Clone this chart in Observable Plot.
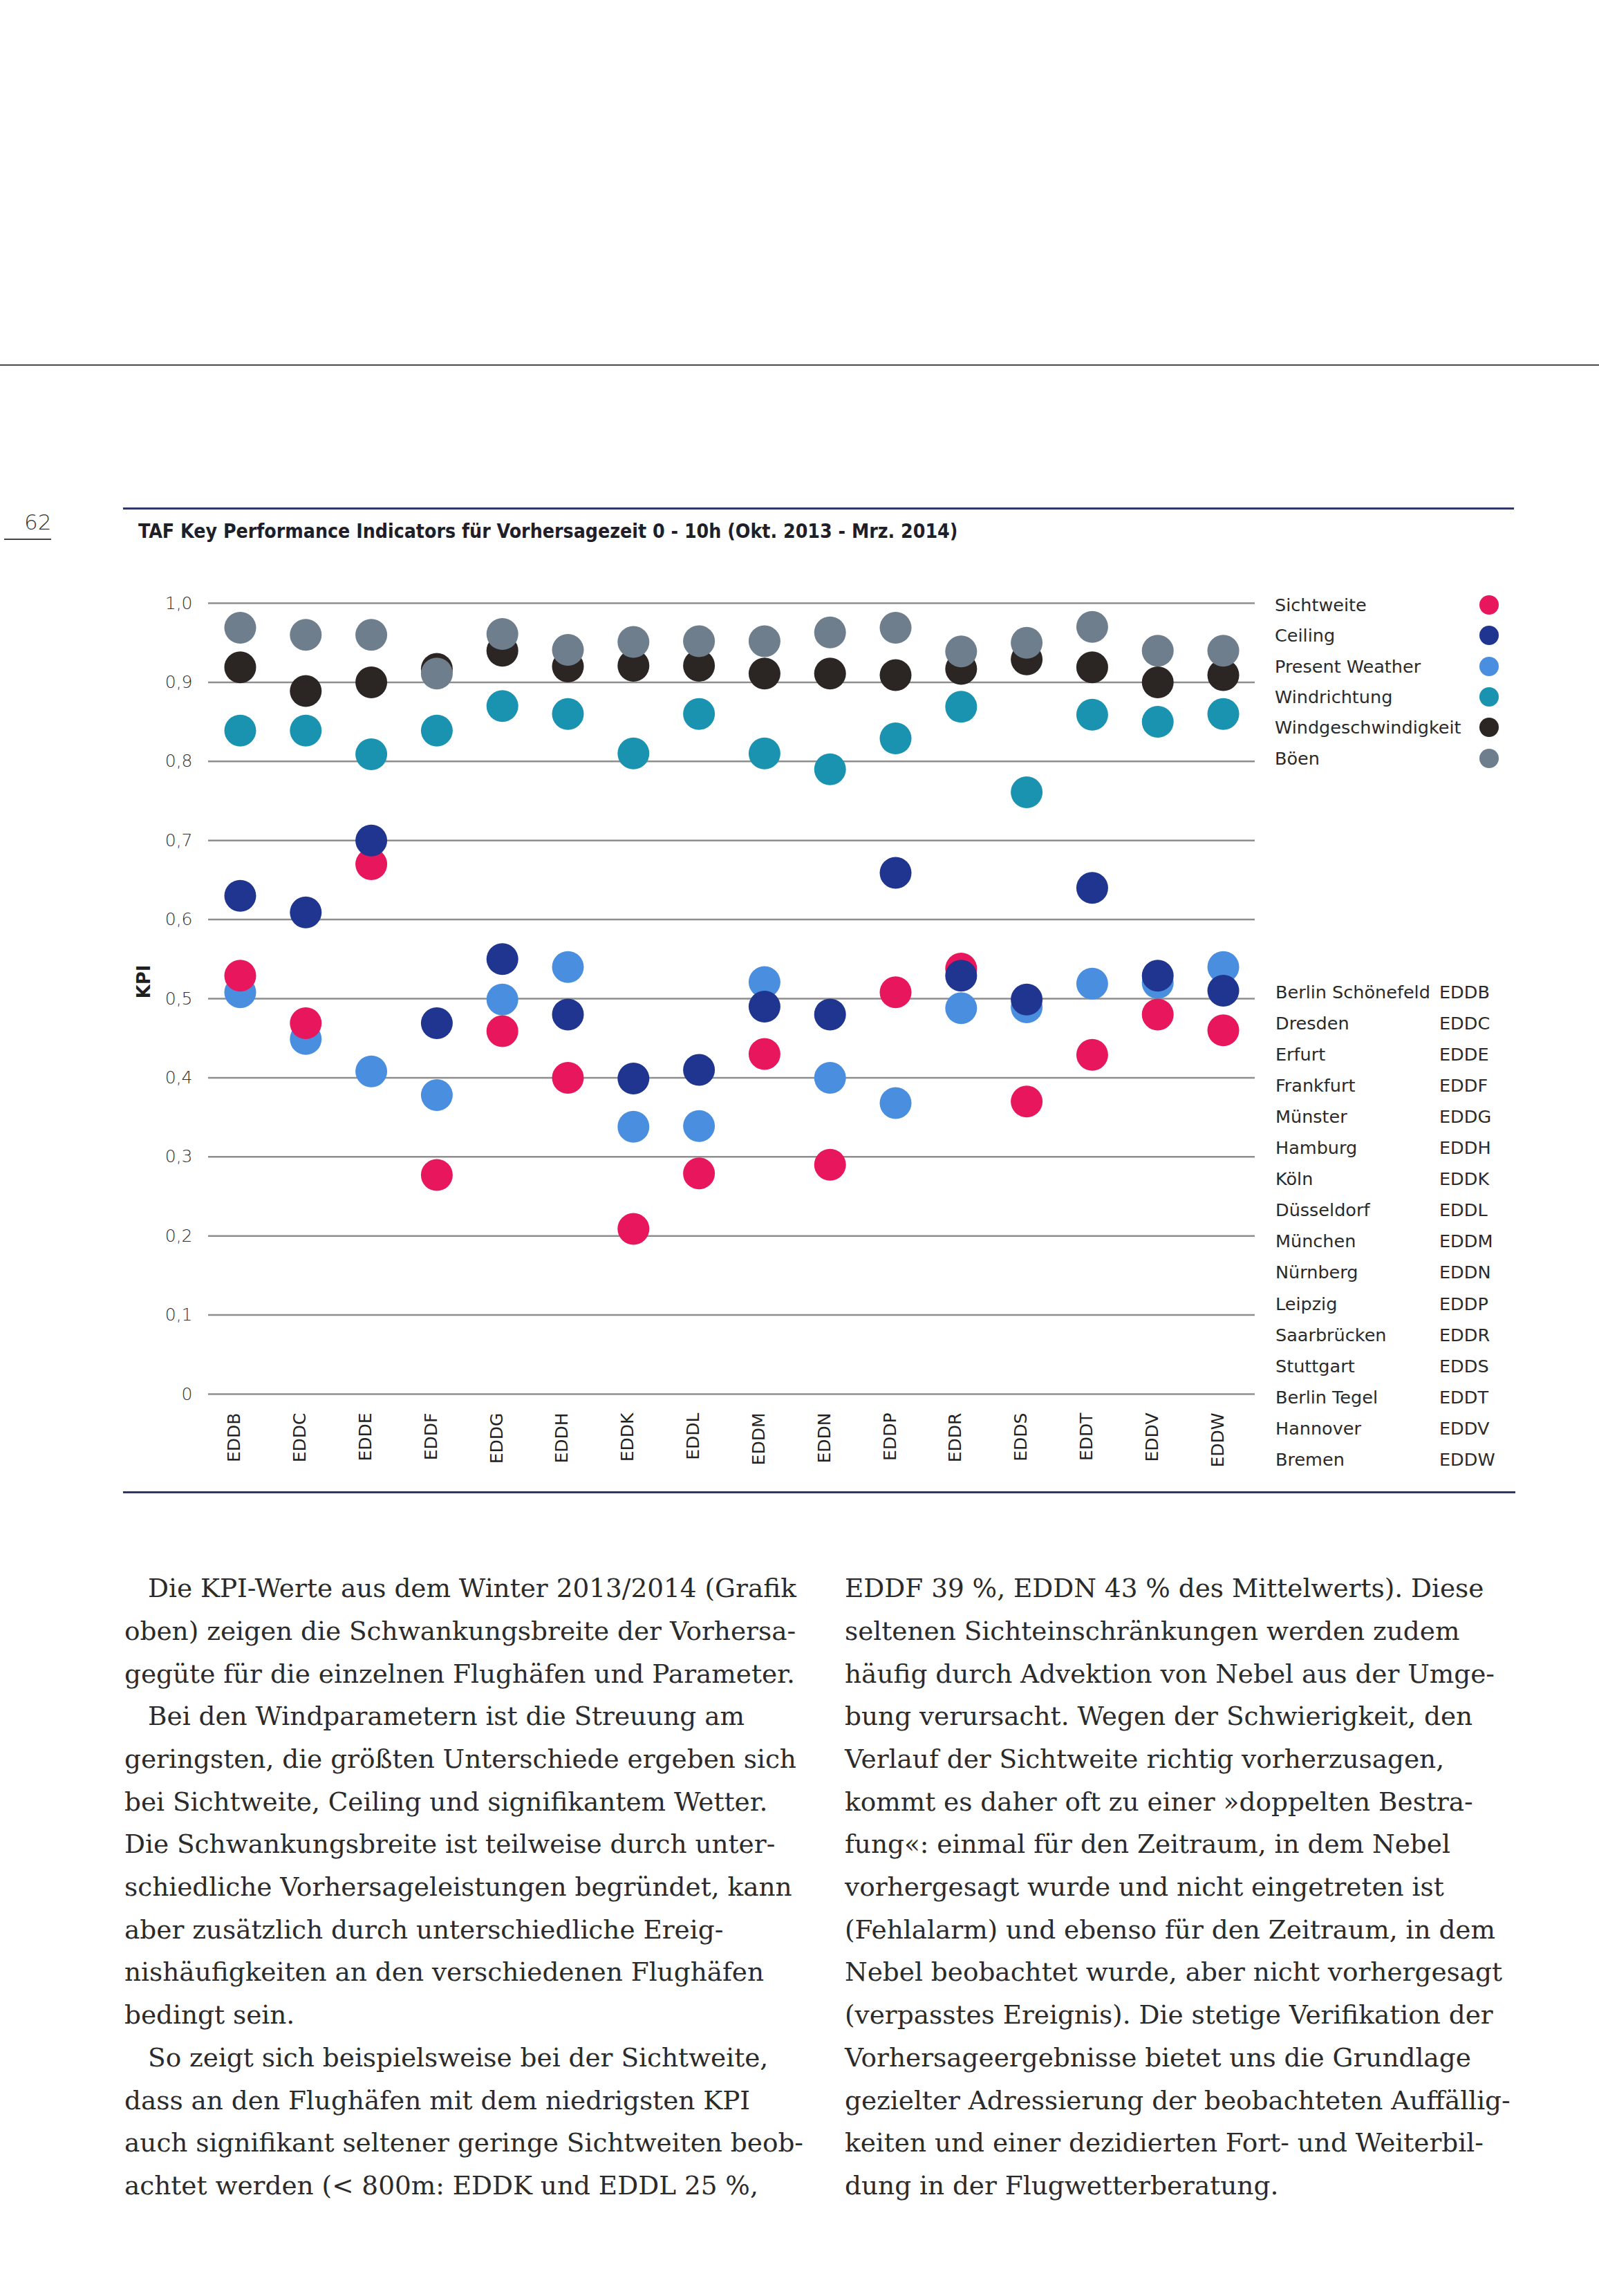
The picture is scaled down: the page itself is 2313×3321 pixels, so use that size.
<!DOCTYPE html>
<html>
<head>
<meta charset="utf-8">
<script src="https://cdn.jsdelivr.net/npm/d3@7"></script>
<script src="https://cdn.jsdelivr.net/npm/@observablehq/plot@0.6"></script>
<style>
  html, body { margin: 0; padding: 0; background: #ffffff; }
  #page { position: relative; width: 2313px; height: 3321px; overflow: hidden; background: #ffffff; }
  .abs { position: absolute; white-space: nowrap; }
  .hline { position: absolute; }
  .leg { font-family: "DejaVu Sans", sans-serif; font-size: 25.5px; color: #2a2a2a; line-height: 40px; height: 40px; }
  .body { font-family: "DejaVu Serif", serif; color: #2b2b2b; }
</style>
</head>
<body>
<div id="page"></div>
<script>
// ---------------- DATA ----------------
const airports = ["EDDB","EDDC","EDDE","EDDF","EDDG","EDDH","EDDK","EDDL","EDDM","EDDN","EDDP","EDDR","EDDS","EDDT","EDDV","EDDW"];
const airportNames = ["Berlin Schönefeld","Dresden","Erfurt","Frankfurt","Münster","Hamburg","Köln","Düsseldorf","München","Nürnberg","Leipzig","Saarbrücken","Stuttgart","Berlin Tegel","Hannover","Bremen"];
const parameters = ["Sichtweite","Ceiling","Present Weather","Windrichtung","Windgeschwindigkeit","Böen"];
const parameterColors = ["#e8175d","#1f3590","#4a8ee0","#1a93b0","#2b2523","#6e7e8c"];

const sichtweite          = [0.529,0.469,0.670,0.277,0.459,0.400,0.209,0.279,0.430,0.290,0.508,0.538,0.370,0.429,0.480,0.460];
const ceiling             = [0.630,0.609,0.700,0.469,0.550,0.480,0.399,0.410,0.490,0.480,0.659,0.529,0.499,0.640,0.529,0.510];
const presentWeather      = [0.508,0.449,0.408,0.378,0.499,0.540,0.338,0.339,0.521,0.400,0.368,0.488,0.489,0.519,0.520,0.540];
const windrichtung        = [0.839,0.839,0.809,0.839,0.870,0.860,0.810,0.860,0.810,0.790,0.829,0.869,0.761,0.859,0.850,0.860];
const windgeschwindigkeit = [0.919,0.889,0.900,0.917,0.940,0.920,0.921,0.921,0.911,0.911,0.909,0.917,0.929,0.919,0.900,0.909];
const boeen               = [0.969,0.960,0.960,0.911,0.961,0.941,0.951,0.952,0.952,0.963,0.969,0.939,0.950,0.970,0.940,0.940];

const yTicks = [0,0.1,0.2,0.3,0.4,0.5,0.6,0.7,0.8,0.9,1.0];
const yTickLabels = ["0","0,1","0,2","0,3","0,4","0,5","0,6","0,7","0,8","0,9","1,0"];

const titleText = "TAF Key Performance Indicators für Vorhersagezeit 0 - 10h (Okt. 2013 - Mrz. 2014)";
const yLabel = "KPI";
const pageNumber = "62";

const leftLines = [
  ["Die KPI-Werte aus dem Winter 2013/2014 (Grafik", true],
  ["oben) zeigen die Schwankungsbreite der Vorhersa-", false],
  ["gegüte für die einzelnen Flughäfen und Parameter.", false],
  ["Bei den Windparametern ist die Streuung am", true],
  ["geringsten, die größten Unterschiede ergeben sich", false],
  ["bei Sichtweite, Ceiling und signifikantem Wetter.", false],
  ["Die Schwankungsbreite ist teilweise durch unter-", false],
  ["schiedliche Vorhersageleistungen begründet, kann", false],
  ["aber zusätzlich durch unterschiedliche Ereig-", false],
  ["nishäufigkeiten an den verschiedenen Flughäfen", false],
  ["bedingt sein.", false],
  ["So zeigt sich beispielsweise bei der Sichtweite,", true],
  ["dass an den Flughäfen mit dem niedrigsten KPI", false],
  ["auch signifikant seltener geringe Sichtweiten beob-", false],
  ["achtet werden (< 800m: EDDK und EDDL 25 %,", false]
];
const rightLines = [
  ["EDDF 39 %, EDDN 43 % des Mittelwerts). Diese", false],
  ["seltenen Sichteinschränkungen werden zudem", false],
  ["häufig durch Advektion von Nebel aus der Umge-", false],
  ["bung verursacht. Wegen der Schwierigkeit, den", false],
  ["Verlauf der Sichtweite richtig vorherzusagen,", false],
  ["kommt es daher oft zu einer »doppelten Bestra-", false],
  ["fung«: einmal für den Zeitraum, in dem Nebel", false],
  ["vorhergesagt wurde und nicht eingetreten ist", false],
  ["(Fehlalarm) und ebenso für den Zeitraum, in dem", false],
  ["Nebel beobachtet wurde, aber nicht vorhergesagt", false],
  ["(verpasstes Ereignis). Die stetige Verifikation der", false],
  ["Vorhersageergebnisse bietet uns die Grundlage", false],
  ["gezielter Adressierung der beobachteten Auffällig-", false],
  ["keiten und einer dezidierten Fort- und Weiterbil-", false],
  ["dung in der Flugwetterberatung.", false]
];

// ---------------- BUILD ----------------
const series = {
  "Sichtweite": sichtweite,
  "Ceiling": ceiling,
  "Present Weather": presentWeather,
  "Windrichtung": windrichtung,
  "Windgeschwindigkeit": windgeschwindigkeit,
  "Böen": boeen
};
const drawOrder = ["Present Weather","Sichtweite","Ceiling","Windrichtung","Windgeschwindigkeit","Böen"];
const table = drawOrder.flatMap(p => airports.map((a, i) => ({airport: a, parameter: p, value: series[p][i]})));

const page = document.getElementById("page");
function el(tag, cls, css, text) {
  const e = document.createElement(tag);
  if (cls) e.className = cls;
  Object.assign(e.style, css);
  if (text != null) e.textContent = text;
  page.appendChild(e);
  return e;
}
const canvas = document.createElement("canvas");
const ctx = canvas.getContext("2d");
function fitSize(text, weight, family, target) {
  ctx.font = weight + " 100px " + family;
  return 100 * target / ctx.measureText(text).width;
}

// rules / header
el("div", "hline", {left: "0px", top: "527px", width: "2313px", height: "2px", background: "#4a4a4a"});
el("div", "abs", {left: "35px", top: "738px", fontFamily: "'DejaVu Sans', sans-serif", fontWeight: "200", fontSize: "31px", lineHeight: "34px", color: "#333"}, pageNumber);
el("div", "hline", {left: "6px", top: "779px", width: "68px", height: "2px", background: "#444"});
el("div", "hline", {left: "178px", top: "734px", width: "2012px", height: "3px", background: "#2e3766"});
const titleFamily = "'DejaVu Sans Condensed', 'DejaVu Sans', sans-serif";
const titleSize = Math.min(30, fitSize(titleText, "bold", titleFamily, 1186));
el("div", "abs", {left: "200px", top: (769 - 18) + "px", fontFamily: titleFamily, fontWeight: "bold", fontSize: titleSize + "px", lineHeight: "36px", color: "#1f1f2a"}, titleText);
el("div", "hline", {left: "178px", top: "2157px", width: "2014px", height: "3px", background: "#2e3766"});

// chart
const chart = Plot.plot({
  width: 1650,
  height: 1286,
  marginLeft: 121,
  marginRight: 15,
  marginTop: 32,
  marginBottom: 110,
  style: {fontFamily: "'DejaVu Sans', sans-serif", background: "transparent", overflow: "visible"},
  x: {type: "point", domain: airports, padding: 0.485, round: false, axis: null},
  y: {domain: [0, 1], axis: null},
  color: {domain: parameters, range: parameterColors},
  marks: [
    Plot.ruleY(yTicks, {stroke: "#8e8e8e", strokeWidth: 2.5}),
    Plot.axisY({ticks: yTicks, tickFormat: d => yTickLabels[yTicks.indexOf(d)], tickSize: 0, tickPadding: 23, fontSize: 25, fontWeight: 200, fill: "#2f2f2f", label: null}),
    Plot.text(airports, {x: d => d, text: d => d, frameAnchor: "bottom", dy: 27, rotate: -90, textAnchor: "end", fontSize: 25, fill: "#222"}),
    Plot.text([yLabel], {text: d => d, frameAnchor: "left", dx: -93, rotate: -90, fontWeight: "bold", fontSize: 26, fill: "#1f1f1f"}),
    Plot.dot(table, {x: "airport", y: "value", fill: "parameter", r: 23})
  ]
});
const holder = el("div", "abs", {left: "180px", top: "840px"});
holder.appendChild(chart);

// parameter legend
parameters.forEach((p, i) => {
  const cy = 875 + i * 44.3;
  el("div", "abs leg", {left: "1844px", top: (cy - 20) + "px"}, p);
  el("div", "abs", {left: (2154 - 14) + "px", top: (cy - 14) + "px", width: "28px", height: "28px", borderRadius: "50%", background: parameterColors[i]});
});

// airport legend
airports.forEach((a, i) => {
  const cy = 1435 + i * 45.05;
  el("div", "abs leg", {left: "1845px", top: (cy - 20) + "px"}, airportNames[i]);
  el("div", "abs leg", {left: "2082px", top: (cy - 20) + "px"}, a);
});

// body text
const bodySize = fitSize(leftLines[2][0], "normal", "'DejaVu Serif'", 970);
const lineStep = 61.7;
function column(lines, x0) {
  lines.forEach(([t, indent], i) => {
    const cy = 2298 + i * lineStep;
    el("div", "abs body", {left: (x0 + (indent ? 34 : 0)) + "px", top: (cy - lineStep / 2) + "px", fontSize: bodySize + "px", lineHeight: lineStep + "px"}, t);
  });
}
column(leftLines, 180);
column(rightLines, 1222);
</script>
</body>
</html>
